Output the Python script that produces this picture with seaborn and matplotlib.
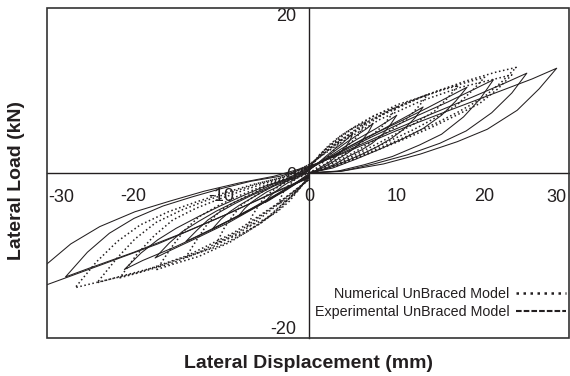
import matplotlib
matplotlib.use("Agg")
import matplotlib.pyplot as plt
import seaborn as sns
import pandas as pd
from matplotlib.lines import Line2D
from matplotlib.patches import Rectangle

# Hysteresis cycles: lateral displacement (mm) and lateral load (kN), one list per cycle
exp_disp = [
    [0, 0.8, 1.5, 2.3, 3, 3.6, 4.2, 4.7, 5, 4.5, 3.8, 2.8, 1.8, 0.8, 0, -0.6, -1.2, -1.8, -2.4, -3, -3.6, -4.1, -4.6, -5, -4.5, -3.6, -2.6, -1.6, -0.7, 0],
    [0, 1.1, 2.2, 3.3, 4.4, 5.3, 6.1, 6.8, 7.3, 6.6, 5.5, 4.0, 2.6, 1.1, 0, -1.0, -1.9, -2.9, -3.8, -4.8, -5.8, -6.6, -7.3, -8, -7.2, -5.8, -4.2, -2.6, -1.1, 0],
    [0, 1.5, 3, 4.5, 6, 7.2, 8.4, 9.3, 10, 9, 7.5, 5.5, 3.5, 1.5, 0, -1.3, -2.6, -4.0, -5.3, -6.6, -7.9, -9.0, -10.0, -11, -9.9, -7.9, -5.7, -3.5, -1.5, 0],
    [0, 2.0, 3.9, 5.9, 7.8, 9.4, 10.9, 12.1, 13, 11.7, 9.8, 7.2, 4.6, 2.0, 0, -1.7, -3.4, -5.0, -6.7, -8.4, -10.1, -11.5, -12.7, -14, -12.6, -10.1, -7.3, -4.5, -2.0, 0],
    [0, 2.7, 5.4, 8.1, 10.8, 13.0, 15.1, 16.7, 18, 16.2, 13.5, 9.9, 6.3, 2.7, 0, -2.1, -4.2, -6.3, -8.4, -10.5, -12.6, -14.4, -15.9, -17.5, -15.8, -12.6, -9.1, -5.6, -2.5, 0],
    [0, 3.2, 6.3, 9.5, 12.6, 15.1, 17.6, 19.5, 21, 18.9, 15.8, 11.6, 7.4, 3.2, 0, -2.5, -5.0, -7.6, -10.1, -12.6, -15.1, -17.2, -19.1, -21, -18.9, -15.1, -10.9, -6.7, -2.9, 0],
    [0, 3.7, 7.4, 11.2, 14.9, 17.9, 20.8, 23.1, 24.8, 22.3, 18.6, 13.6, 8.7, 3.7, 0, -3.3, -6.6, -10.0, -13.3, -16.6, -19.9, -22.7, -25.2, -27.7, -24.9, -19.9, -14.4, -8.9, -3.9, 0],
    [0, 4.2, 8.5, 12.7, 16.9, 20.3, 23.7, 26.2, 28.2, 25.4, 21.2, 15.5, 9.9, 4.2, 0, -4.0, -7.9, -11.9, -15.8, -19.8, -23.8, -27.1, -30.0, -33, -29.7, -23.8, -17.2, -10.6, -4.6, 0],
]
exp_load = [
    [0, 0.3, 0.8, 1.3, 1.9, 2.5, 3.2, 4.0, 4.8, 4.3, 3.6, 2.8, 1.9, 1.0, 0.3, -0.2, -0.5, -0.9, -1.2, -1.6, -2.1, -2.5, -3.0, -3.6, -3.3, -2.7, -2.1, -1.4, -0.6, -0.1],
    [0, 0.4, 1.0, 1.7, 2.4, 3.1, 4.0, 5.0, 6.0, 5.4, 4.6, 3.5, 2.4, 1.2, 0.4, -0.3, -0.7, -1.2, -1.8, -2.3, -3.0, -3.6, -4.3, -5.2, -4.7, -4.0, -3.0, -2.0, -0.9, -0.2],
    [0, 0.4, 1.1, 2.0, 2.8, 3.6, 4.7, 5.9, 7.0, 6.3, 5.3, 4.1, 2.8, 1.4, 0.4, -0.4, -1.0, -1.6, -2.3, -3.1, -3.9, -4.7, -5.6, -6.8, -6.2, -5.2, -3.9, -2.6, -1.2, -0.3],
    [0, 0.5, 1.3, 2.2, 3.2, 4.2, 5.4, 6.7, 8.0, 7.2, 6.1, 4.6, 3.2, 1.6, 0.5, -0.5, -1.2, -2.0, -2.8, -3.7, -4.7, -5.7, -6.9, -8.3, -7.6, -6.3, -4.8, -3.2, -1.5, -0.3],
    [0, 0.6, 1.7, 2.9, 4.2, 5.4, 7.0, 8.7, 10.4, 9.4, 7.9, 6.0, 4.2, 2.1, 0.6, -0.6, -1.4, -2.5, -3.5, -4.6, -5.9, -7.1, -8.5, -10.3, -9.4, -7.8, -6.0, -3.9, -1.9, -0.4],
    [0, 0.2, 1.0, 2.0, 3.4, 4.7, 6.8, 9.0, 11.3, 10.2, 8.6, 6.6, 4.5, 2.3, 0.7, -0.7, -1.6, -2.8, -4.0, -5.3, -6.7, -8.1, -9.7, -11.7, -10.6, -8.9, -6.8, -4.4, -2.1, -0.5],
    [0, 0.2, 1.1, 2.2, 3.6, 5.1, 7.3, 9.7, 12.1, 10.9, 9.2, 7.0, 4.8, 2.4, 0.7, -0.4, -1.0, -1.9, -2.9, -4.0, -5.5, -7.3, -9.6, -12.6, -11.5, -9.6, -7.3, -4.8, -2.3, -0.5],
    [0, 0.3, 1.1, 2.3, 3.8, 5.3, 7.6, 10.2, 12.7, 11.4, 9.7, 7.4, 5.1, 2.5, 0.8, -0.4, -1.2, -2.2, -3.4, -4.7, -6.5, -8.6, -11.2, -14.8, -13.5, -11.2, -8.6, -5.6, -2.7, -0.6],
]
num_disp = [
    [0, 0.5, 1.1, 1.6, 2.1, 2.5, 2.9, 3.3, 3.5, 3.2, 2.6, 1.9, 1.2, 0.5, 0, -0.4, -0.8, -1.3, -1.7, -2.1, -2.5, -2.9, -3.2, -3.5, -3.2, -2.5, -1.8, -1.1, -0.5, 0],
    [0, 1.0, 2.0, 2.9, 3.9, 4.7, 5.5, 6.0, 6.5, 5.9, 4.9, 3.6, 2.3, 1.0, 0, -0.8, -1.7, -2.5, -3.4, -4.2, -5.0, -5.7, -6.4, -7, -6.3, -5.0, -3.6, -2.2, -1.0, 0],
    [0, 1.5, 3, 4.5, 6, 7.2, 8.4, 9.3, 10, 9, 7.5, 5.5, 3.5, 1.5, 0, -1.3, -2.5, -3.8, -5.0, -6.3, -7.6, -8.6, -9.6, -10.5, -9.5, -7.6, -5.5, -3.4, -1.5, 0],
    [0, 2.0, 4.1, 6.1, 8.1, 9.7, 11.3, 12.6, 13.5, 12.2, 10.1, 7.4, 4.7, 2.0, 0, -1.7, -3.4, -5.0, -6.7, -8.4, -10.1, -11.5, -12.7, -14, -12.6, -10.1, -7.3, -4.5, -2.0, 0],
    [0, 2.6, 5.1, 7.7, 10.2, 12.2, 14.3, 15.8, 17, 15.3, 12.8, 9.4, 6.0, 2.6, 0, -2.1, -4.2, -6.2, -8.3, -10.4, -12.5, -14.2, -15.7, -17.3, -15.6, -12.5, -9.0, -5.5, -2.4, 0],
    [0, 3, 6, 9, 12, 14.4, 16.8, 18.6, 20, 18, 15, 11, 7, 3, 0, -2.6, -5.2, -7.7, -10.3, -12.9, -15.5, -17.6, -19.6, -21.5, -19.4, -15.5, -11.2, -6.9, -3.0, 0],
    [0, 3.5, 6.9, 10.4, 13.9, 16.6, 19.4, 21.5, 23.1, 20.8, 17.3, 12.7, 8.1, 3.5, 0, -2.9, -5.8, -8.7, -11.6, -14.5, -17.4, -19.8, -21.9, -24.1, -21.7, -17.4, -12.5, -7.7, -3.4, 0],
    [0, 3.5, 7.1, 10.6, 14.2, 17.0, 19.8, 21.9, 23.6, 21.2, 17.7, 13.0, 8.3, 3.5, 0, -3.2, -6.4, -9.6, -12.8, -16.0, -19.2, -21.8, -24.2, -26.6, -23.9, -19.2, -13.8, -8.5, -3.7, 0],
]
num_load = [
    [0, 0.3, 0.8, 1.3, 1.8, 2.3, 2.8, 3.4, 4.0, 3.8, 3.5, 2.9, 2.2, 1.2, 0.3, -0.2, -0.4, -0.6, -0.9, -1.3, -1.7, -2.3, -3.0, -3.8, -3.6, -3.3, -2.7, -2.0, -1.0, -0.2],
    [0, 0.5, 1.2, 2.0, 2.9, 3.6, 4.4, 5.3, 6.2, 5.9, 5.4, 4.5, 3.4, 1.9, 0.5, -0.3, -0.7, -1.1, -1.6, -2.2, -2.9, -3.9, -5.1, -6.5, -6.2, -5.6, -4.7, -3.4, -1.8, -0.4],
    [0, 0.6, 1.6, 2.6, 3.7, 4.6, 5.7, 6.9, 8.0, 7.6, 7.0, 5.8, 4.4, 2.4, 0.6, -0.3, -0.9, -1.4, -2.1, -2.9, -3.8, -5.1, -6.6, -8.5, -8.1, -7.3, -6.1, -4.4, -2.3, -0.5],
    [0, 0.8, 1.9, 3.1, 4.4, 5.5, 6.7, 8.2, 9.5, 9.0, 8.3, 6.9, 5.2, 2.9, 0.8, -0.4, -1.0, -1.7, -2.6, -3.5, -4.6, -6.1, -8.0, -10.2, -9.7, -8.8, -7.3, -5.3, -2.8, -0.6],
    [0, 0.8, 2.1, 3.5, 4.9, 6.1, 7.5, 9.1, 10.6, 10.1, 9.2, 7.7, 5.8, 3.2, 0.8, -0.5, -1.2, -2.0, -2.9, -4.0, -5.3, -7.0, -9.1, -11.7, -11.1, -10.1, -8.4, -6.1, -3.2, -0.7],
    [0, 0.9, 2.3, 3.8, 5.3, 6.7, 8.2, 10.0, 11.6, 11.0, 10.1, 8.5, 6.4, 3.5, 0.9, -0.5, -1.3, -2.2, -3.2, -4.3, -5.7, -7.6, -9.9, -12.7, -12.1, -10.9, -9.1, -6.6, -3.4, -0.8],
    [0, 1.0, 2.4, 3.9, 5.5, 6.9, 8.4, 10.2, 11.9, 11.3, 10.4, 8.7, 6.5, 3.6, 1.0, -0.5, -1.3, -2.3, -3.3, -4.5, -6.0, -8.0, -10.4, -13.3, -12.6, -11.4, -9.6, -6.9, -3.6, -0.8],
    [0, 1.0, 2.6, 4.2, 5.9, 7.4, 9.1, 11.0, 12.8, 12.2, 11.1, 9.3, 7.0, 3.8, 1.0, -0.6, -1.4, -2.4, -3.5, -4.7, -6.3, -8.3, -10.8, -13.9, -13.2, -12.0, -10.0, -7.2, -3.8, -0.8],
]

x_tick_values = [-20, -10, 0, 10, 20]
x_edge_labels = [-30, 30]
y_labelled = [-20, 0, 20]


def to_frame(model, disp_sets, load_sets):
    rows = []
    for k, (xs, ys) in enumerate(zip(disp_sets, load_sets)):
        for i, (x, y) in enumerate(zip(xs, ys)):
            rows.append({"model": model, "cycle": f"{model}-{k}", "step": i,
                         "disp": x, "load": y})
    return pd.DataFrame(rows)


exp_df = to_frame("Experimental", exp_disp, exp_load)
num_df = to_frame("Numerical", num_disp, num_load)

sns.set_theme(style="white")
plt.rcParams["font.family"] = ["Liberation Sans", "DejaVu Sans"]
ink = "#231f20"

fig = plt.figure(figsize=(5.7, 3.76), dpi=100)
ax = fig.add_axes([47 / 570, 38 / 376, 522 / 570, 330 / 376])

sns.lineplot(data=num_df, x="disp", y="load", units="cycle", estimator=None,
             sort=False, color=ink, lw=1.1, ax=ax, legend=False, zorder=3)
for ln in ax.get_lines():
    ln.set_linestyle((0, (1, 1.7)))
sns.lineplot(data=exp_df, x="disp", y="load", units="cycle", estimator=None,
             sort=False, color=ink, lw=0.75, ax=ax, legend=False, zorder=3)

ax.set_xlim(-29.8, 29.6)
ax.set_ylim(-20, 20)

# Axes cross at the origin; frame drawn as a rectangle
for side in ["top", "right"]:
    ax.spines[side].set_visible(False)
ax.spines["left"].set_position(("data", 0))
ax.spines["bottom"].set_position(("data", 0))
for side in ["left", "bottom"]:
    ax.spines[side].set_color(ink)
    ax.spines[side].set_linewidth(1.0)
    ax.spines[side].set_zorder(2)
ax.add_patch(Rectangle((0, 0), 1, 1, transform=ax.transAxes, fill=False,
                       ec="#333333", lw=1.2, clip_on=False, zorder=5))

xt = list(range(-25, 30, 5))
ax.set_xticks(xt)
ax.set_xticklabels([str(v) if v in x_tick_values else "" for v in xt])
yt = list(range(-20, 25, 5))
ax.set_yticks(yt)
ax.set_yticklabels([str(v) if v in y_labelled else "" for v in yt])
ax.tick_params(axis="both", direction="inout", length=8, width=1.0,
               colors=ink, labelsize=13, pad=5)
ax.tick_params(axis="x", pad=7)
ylabels = ax.get_yticklabels()
ylabels[0].set_va("bottom")
ylabels[-1].set_va("top")

for v, dx in zip(x_edge_labels, [11.5, -11.5]):
    ax.annotate(str(v), xy=(v, 0), xycoords="data", xytext=(dx, -11.5),
                textcoords="offset points", ha="center", va="top",
                fontsize=13, color=ink, annotation_clip=False)

ax.set_xlabel("")
ax.set_ylabel("")
fig.text(309 / 570, 1 - 364 / 376, "Lateral Displacement (mm)", ha="center",
         va="center", fontsize=14, fontweight="bold", color=ink)
fig.text(17 / 570, 1 - 181 / 376, "Lateral Load (kN)", ha="center",
         va="center", rotation=90, fontsize=14, fontweight="bold", color=ink)

handles = [
    Line2D([], [], color=ink, lw=1.8, linestyle=(0, (1, 1.8))),
    Line2D([], [], color=ink, lw=1.5, linestyle=(0, (2.7, 1.0))),
]
ax.legend(handles, ["Numerical UnBraced Model", "Experimental UnBraced Model"],
          loc="lower right", bbox_to_anchor=(566 / 570, 1 - 319 / 376),
          bbox_transform=fig.transFigure, frameon=False, markerfirst=False,
          fontsize=10.3, handlelength=3.5, handletextpad=0.45,
          labelspacing=0.3, borderpad=0, borderaxespad=0, labelcolor=ink)

fig.savefig("out.png", dpi=100)
